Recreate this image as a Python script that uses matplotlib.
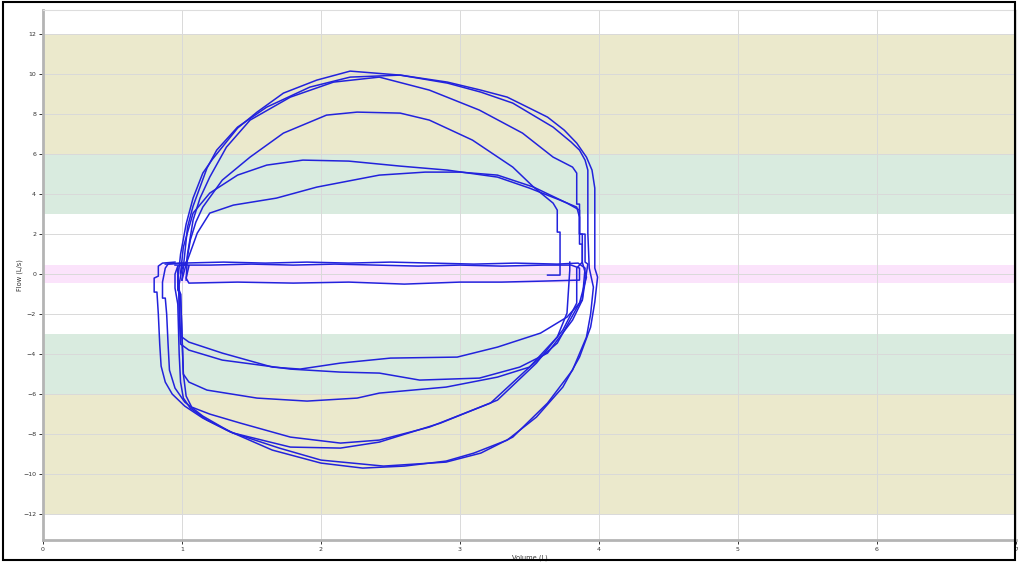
import matplotlib.pyplot as plt
from matplotlib.patches import Rectangle

# flow-volume loops, (volume L, flow L/s)
breath_a = [(0.97, -0.3), (0.99, 1.0), (1.03, 2.5), (1.08, 3.8), (1.15, 5.05), (1.22, 5.75), (1.29, 6.35),
            (1.4, 7.3), (1.54, 8.1), (1.73, 9.05), (1.97, 9.7), (2.21, 10.15), (2.57, 9.95), (2.91, 9.6),
            (3.15, 9.2), (3.34, 8.85), (3.5, 8.3), (3.63, 7.85), (3.75, 7.2), (3.84, 6.55), (3.91, 5.85),
            (3.95, 5.2), (3.97, 4.3), (3.97, 2.35), (3.97, 0.3),
            (3.99, -0.15), (3.97, -1.4), (3.94, -2.65), (3.86, -4.15), (3.74, -5.65), (3.55, -7.15),
            (3.34, -8.3), (3.1, -8.95), (2.9, -9.35), (2.6, -9.6), (2.3, -9.7), (2.0, -9.45), (1.65, -8.8),
            (1.32, -7.8), (1.15, -7.2), (1.02, -6.6), (0.93, -6.0), (0.88, -5.4), (0.85, -4.6),
            (0.84, -3.5), (0.83, -2.0), (0.82, -0.9), (0.8, -0.9), (0.8, -0.2), (0.83, -0.1), (0.83, 0.4),
            (0.86, 0.55), (0.95, 0.6)]

breath_b = [(1.0, -0.3), (1.02, 1.0), (1.04, 2.35), (1.08, 3.4), (1.13, 4.35), (1.18, 5.3), (1.25, 6.2),
            (1.4, 7.35), (1.61, 8.35), (1.92, 9.35), (2.21, 9.85), (2.57, 9.95), (2.91, 9.55), (3.15, 9.1),
            (3.38, 8.55), (3.67, 7.35), (3.8, 6.6), (3.86, 6.2), (3.9, 5.7), (3.92, 5.2), (3.92, 2.05),
            (3.93, 0.3),
            (3.96, -0.65), (3.94, -2.0), (3.91, -3.15), (3.81, -4.8), (3.63, -6.45), (3.38, -8.15),
            (3.15, -8.95), (2.9, -9.4), (2.45, -9.6), (2.0, -9.3), (1.7, -8.7), (1.35, -7.9), (1.15, -7.1),
            (1.02, -6.4), (0.95, -5.7), (0.91, -4.8), (0.9, -3.5), (0.89, -2.0), (0.88, -1.2), (0.86, -1.2),
            (0.86, -0.4), (0.88, 0.3), (0.9, 0.5), (1.0, 0.55)]

breath_c = [(1.03, -0.3), (1.04, 1.0), (1.08, 2.7), (1.13, 3.8), (1.2, 4.85), (1.32, 6.35), (1.49, 7.7),
            (1.78, 8.85), (2.09, 9.6), (2.42, 9.85), (2.78, 9.2), (3.14, 8.2), (3.45, 7.05), (3.67, 5.85),
            (3.81, 5.35), (3.84, 5.05), (3.84, 3.5), (3.86, 3.5), (3.86, 2.0), (3.88, 2.0), (3.88, 0.6),
            (3.84, 0.3),
            (3.84, -1.45), (3.74, -2.8), (3.55, -4.45), (3.27, -6.3), (2.86, -7.45), (2.42, -8.4),
            (2.14, -8.7), (1.78, -8.65), (1.37, -7.95), (1.18, -7.3), (1.06, -6.7), (1.01, -6.2),
            (0.99, -5.4), (0.98, -4.0), (0.97, -1.5), (0.95, -0.7), (0.95, 0.0), (0.97, 0.4), (1.03, 0.5)]

breath_d = [(1.0, -0.3), (1.03, 0.5), (1.06, 1.7), (1.1, 2.6), (1.15, 3.35), (1.29, 4.7), (1.49, 5.85),
            (1.73, 7.05), (2.04, 7.95), (2.26, 8.1), (2.57, 8.05), (2.78, 7.7), (3.09, 6.7), (3.38, 5.35),
            (3.53, 4.35), (3.67, 3.55), (3.7, 3.2), (3.7, 2.1), (3.72, 2.1), (3.72, -0.05), (3.63, -0.05)]

breath_d_out = [(3.79, 0.6), (3.79, 0.2), (3.77, -1.95), (3.7, -3.15), (3.5, -4.65), (3.22, -6.45),
                (2.78, -7.65), (2.42, -8.3), (2.14, -8.45), (1.78, -8.15), (1.42, -7.45), (1.2, -7.0),
                (1.07, -6.65), (1.03, -6.1), (1.01, -5.0), (1.0, -3.0), (0.99, -1.0), (0.97, -0.6),
                (0.97, 0.3)]

breath_e = [(0.99, 0.05), (1.01, 1.35), (1.08, 3.05), (1.2, 4.05), (1.4, 4.95), (1.61, 5.45), (1.87, 5.7),
            (2.2, 5.65), (2.57, 5.4), (2.91, 5.2), (3.27, 4.85), (3.5, 4.3), (3.72, 3.7), (3.84, 3.35),
            (3.86, 2.85), (3.86, 1.5), (3.88, 1.5), (3.88, 0.6),
            (3.91, -0.15), (3.86, -1.45), (3.7, -3.45), (3.5, -4.65), (3.27, -5.15), (2.9, -5.65),
            (2.42, -5.95), (2.26, -6.2), (1.9, -6.35), (1.54, -6.2), (1.18, -5.8), (1.05, -5.4),
            (1.01, -5.0), (1.0, -3.0), (0.99, -1.0), (0.97, -0.8), (0.97, 0.05)]

breath_f = [(1.0, 0.3), (1.04, 0.7), (1.11, 2.05), (1.2, 3.05), (1.37, 3.45), (1.68, 3.8), (1.97, 4.35),
            (2.42, 4.95), (2.75, 5.1), (3.0, 5.1), (3.27, 4.95), (3.53, 4.35), (3.77, 3.55), (3.86, 3.2),
            (3.86, 2.0), (3.9, 2.0), (3.9, 0.6), (3.92, 0.5),
            (3.88, -1.3), (3.81, -2.3), (3.63, -3.95), (3.43, -4.65), (3.14, -5.2), (2.71, -5.3),
            (2.42, -4.95), (2.14, -4.9), (1.78, -4.75), (1.29, -4.3), (1.05, -3.8), (0.99, -3.5),
            (0.98, -2.0), (0.98, -0.5), (1.0, 0.3)]

breath_g = [(0.88, 0.5), (1.0, 0.55), (1.3, 0.6), (1.6, 0.55), (1.9, 0.6), (2.2, 0.55), (2.5, 0.6),
            (2.8, 0.55), (3.1, 0.5), (3.4, 0.55), (3.7, 0.5), (3.85, 0.55), (3.9, 0.3),
            (3.88, -1.3), (3.77, -2.15), (3.58, -2.95), (3.27, -3.65), (2.98, -4.15), (2.5, -4.2),
            (2.14, -4.45), (1.85, -4.75), (1.65, -4.65), (1.29, -3.95), (1.05, -3.4), (0.99, -3.1),
            (0.98, -1.5), (0.97, 0.3)]

breath_h = [(0.95, 0.45), (1.2, 0.45), (1.5, 0.5), (1.8, 0.45), (2.1, 0.5), (2.4, 0.45), (2.7, 0.4),
            (3.0, 0.45), (3.3, 0.4), (3.6, 0.45), (3.8, 0.45), (3.86, 0.3), (3.86, -0.3), (3.6, -0.35),
            (3.3, -0.4), (3.0, -0.4), (2.6, -0.5), (2.2, -0.4), (1.8, -0.45), (1.4, -0.4), (1.05, -0.45),
            (1.03, -0.2), (1.05, 0.4)]

breaths = [breath_a, breath_b, breath_c, breath_d, breath_d_out, breath_e, breath_f, breath_g, breath_h]

# reference zones on the flow axis
zones = [(6, 12, '#ebe9cc'), (-12, -6, '#ebe9cc'), (3, 6, '#d9ebdf'), (-6, -3, '#d9ebdf'),
         (-0.45, 0.45, '#fbe3fb')]

fig = plt.figure(figsize=(10.18, 5.62), dpi=100)
ax = fig.add_axes([0.0422, 0.039, 0.9558, 0.943])

for lo, hi, col in zones:
    ax.axhspan(lo, hi, color=col, lw=0, zorder=0)

for b in breaths:
    ax.plot([p[0] for p in b], [p[1] for p in b], color='#2222dc', lw=1.1, zorder=3)

ax.set_xlim(0, 7)
ax.set_ylim(-13.3, 13.2)
ax.set_xticks(range(0, 8))
ax.set_yticks(range(-12, 13, 2))
ax.grid(True, color='#d9d9d9', lw=0.7, zorder=1)
ax.set_axisbelow(True)

for s in ['top', 'right']:
    ax.spines[s].set_color('#dddddd')
    ax.spines[s].set_linewidth(0.8)
for s in ['left', 'bottom']:
    ax.spines[s].set_color('#b4b4b4')
    ax.spines[s].set_linewidth(2.0)

ax.tick_params(labelsize=4.5, colors='#333333', length=3, width=0.7, pad=2)
ax.set_xlabel('Volume (L)', fontsize=4.8, color='#333333', labelpad=2)
ax.set_ylabel('Flow (L/s)', fontsize=4.8, color='#333333')
ax.yaxis.set_label_coords(-0.021, 0.5)

fig.patches.append(Rectangle((0.003, 0.003), 0.994, 0.994, transform=fig.transFigure,
                             fill=False, ec='black', lw=1.5))

fig.savefig('out.png', dpi=100)
